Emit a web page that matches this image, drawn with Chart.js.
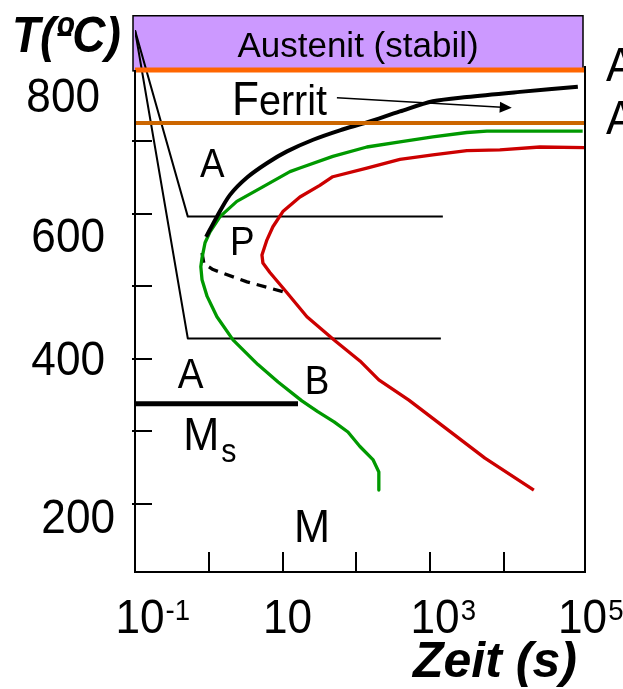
<!DOCTYPE html>
<html>
<head>
<meta charset="utf-8">
<title>ZTU-Schaubild</title>
<script src="https://cdn.jsdelivr.net/npm/chart.js@4.4.1/dist/chart.umd.min.js"></script>
<style>
  html, body { margin: 0; padding: 0; background: #ffffff; }
  canvas { display: block; }
</style>
</head>
<body>
<canvas id="ztu" width="623" height="689"></canvas>
<script>
// Isothermes ZTU-Schaubild eines untereutektoiden Stahls
// Zeit in s (logarithmisch), Temperatur in °C

const X_MIN = 0.1;
const X_MAX = 125900;
const Y_MIN = 106;
const Y_MAX = 874;

const A3_TEMP = 798;
const A1_TEMP = 725;
const MS_TEMP = 338;
const AUSTENIT_BAND = [798, 874];

// Ferritbeginn (schwarz)
const ferritTime = [0.92, 1.29, 1.94, 3.3, 6.2, 11.5, 26, 60, 139, 390, 1090, 3150, 16500, 100700];
const ferritTemp = [568, 596, 626, 650, 670, 686, 702, 715, 726, 741, 755, 761, 768, 775];

// Umwandlungsbeginn (grün)
const beginnTime = [117000, 5890, 3150, 1090, 390, 139, 48, 17.2, 12.6, 5.4, 2.4, 1.42, 1.04, 0.89, 0.81,
                    0.78, 0.81, 0.95, 1.29, 2.13, 4.64, 8.7, 18.3, 30, 50, 77, 112, 168, 202, 202];
const beginnTemp = [714, 714, 712, 706, 699, 692, 679, 663, 658, 637, 617, 596, 575, 560, 539,
                    527, 509, 486, 458, 426, 392, 368, 342, 327, 313, 299, 279, 261, 244, 219];

// Umwandlungsende (rot)
const endeTime = [125000, 30800, 8830, 3150, 1090, 390, 139, 48, 32, 17.2, 10.1, 7.4, 6.15, 5.26, 5.42,
                  6.74, 11.5, 21.4, 50, 112, 202, 516, 1590, 5540, 25500];
const endeTemp = [691, 692, 688, 687, 681, 675, 663, 651, 639, 623, 603, 582, 564, 543, 532,
                  519, 491, 458, 426, 397, 371, 343, 305, 263, 219];

// Grenze Perlit / Bainit (gestrichelt)
const grenzeTime = [0.81, 0.86, 1.14, 3.3, 11.5];
const grenzeTemp = [546, 531, 523, 506, 491];

// Abschreck- und Haltepfade
const pfad1Time = [0.1, 0.52, 1490];
const pfad1Temp = [853, 596, 596];
const pfad2Time = [0.1, 0.52, 1400];
const pfad2Temp = [853, 428, 428];

// Martensitstart
const msTime = [0.1, 16.2];

// Achsenbeschriftung
const yTickValues = [200, 300, 400, 500, 600, 700];
const yLabelValues = [200, 400, 600, 800];
const xTickValues = [1, 10, 100, 1000, 10000];
const xLabelValues = [0.1, 10, 1000, 100000];
const xLabelExp = ['-1', '', '3', '5'];

const FONT = '"Liberation Sans", Arial, Helvetica, sans-serif';

function zip(ts, Ts) {
  return ts.map((t, i) => ({ x: t, y: Ts[i] }));
}

function drawText(ctx, s, x, y, size, opts = {}) {
  ctx.save();
  ctx.font = `${opts.style || ''} ${size}px ${FONT}`;
  ctx.fillStyle = '#000';
  ctx.textBaseline = 'alphabetic';
  ctx.textAlign = 'left';
  const sx = opts.sx || 1;
  const w = ctx.measureText(s).width * sx;
  let x0 = x;
  if (opts.align === 'center') x0 = x - w / 2;
  else if (opts.align === 'right') x0 = x - w;
  ctx.translate(x0, y);
  ctx.scale(sx, 1);
  ctx.fillText(s, 0, 0);
  ctx.restore();
  return x0 + w;
}

// Beschriftungen der Gefügebereiche (Zeit, Temperatur)
const regionLabels = [
  { text: 'A', t: 0.76, T: 650, size: 40 },
  { text: 'P', t: 1.94, T: 543, size: 40 },
  { text: 'A', t: 0.38, T: 360, size: 42 },
  { text: 'B', t: 20,   T: 352, size: 40 },
  { text: 'M', t: 14.3, T: 148, size: 47 }
];

// per-label nudges for the temperature labels: [right edge from axis, baseline below tick]
const yLabelNudge = { 800: [-35, 43], 600: [-30, 38], 400: [-30, 16], 200: [-20, 29] };

const decorations = {
  id: 'decorations',
  beforeDatasetsDraw(chart) {
    const { ctx, chartArea: a, scales: { x, y } } = chart;
    const top = y.getPixelForValue(AUSTENIT_BAND[1]);
    const bot = y.getPixelForValue(AUSTENIT_BAND[0]);
    ctx.save();
    ctx.fillStyle = '#cc99ff';
    ctx.fillRect(a.left - 2, top, a.right - a.left, bot - top);
    ctx.strokeStyle = '#000';
    ctx.lineWidth = 1.5;
    ctx.strokeRect(a.left - 2, top + 0.75, a.right - a.left, bot - top);
    ctx.restore();
  },
  afterDatasetsDraw(chart) {
    const { ctx, chartArea: a, scales: { x, y } } = chart;
    ctx.save();
    ctx.strokeStyle = '#000';
    ctx.lineWidth = 2;
    ctx.lineCap = 'butt';
    const yTop = y.getPixelForValue(A3_TEMP);

    // Rahmen
    ctx.beginPath();
    ctx.moveTo(a.left, yTop);
    ctx.lineTo(a.left, a.bottom);
    ctx.lineTo(a.right, a.bottom);
    ctx.lineTo(a.right, yTop - 4);
    ctx.stroke();

    // Teilstriche nach innen
    ctx.beginPath();
    yTickValues.forEach(v => {
      const py = Math.round(y.getPixelForValue(v));
      ctx.moveTo(a.left - 3, py);
      ctx.lineTo(a.left + 17, py);
    });
    xTickValues.forEach(v => {
      const px = Math.round(x.getPixelForValue(v));
      ctx.moveTo(px, a.bottom);
      ctx.lineTo(px, a.bottom - 20);
    });
    ctx.stroke();
    ctx.restore();

    // Temperaturbeschriftung
    yLabelValues.forEach(v => {
      const n = yLabelNudge[v] || [-25, 17];
      drawText(ctx, String(v), a.left + n[0], y.getPixelForValue(v) + n[1], 48, { align: 'right', sx: 0.92 });
    });

    // Zeitbeschriftung 10^n
    xLabelValues.forEach((v, i) => {
      const px = x.getPixelForValue(v) + 5;
      const end = drawText(ctx, '10', px, a.bottom + 61, 48, { align: 'center', sx: 0.92 });
      if (xLabelExp[i]) drawText(ctx, xLabelExp[i], end + 1, a.bottom + 48, 30, { sx: 0.92 });
    });

    // Achsentitel
    const tEnd = drawText(ctx, 'T(', 12, 52, 50, { style: 'italic bold', sx: 0.92 });
    const oEnd = drawText(ctx, '\u00ba', tEnd, 52, 50, { style: 'italic bold', sx: 0.92 });
    ctx.save();
    ctx.fillStyle = '#000';
    ctx.fillRect(tEnd + 2, 33, oEnd - tEnd - 3, 3);
    ctx.restore();
    drawText(ctx, 'C)', oEnd, 52, 50, { style: 'italic bold', sx: 0.92 });
    drawText(ctx, 'Zeit (s)', 413, a.bottom + 105, 50, { style: 'italic bold' });

    // Austenitbereich
    const bandMid = (a.left + a.right) / 2 - 2;
    drawText(ctx, 'Austenit (stabil)', bandMid, y.getPixelForValue(816), 35, { align: 'center' });

    // A3 / A1 am rechten Rand
    drawText(ctx, 'A', a.right + 21, y.getPixelForValue(A3_TEMP) + 11, 48, { sx: 0.92 });
    drawText(ctx, 'A', a.right + 21, y.getPixelForValue(A1_TEMP) + 11, 48, { sx: 0.92 });

    // Ferrit mit Pfeil
    let fx = drawText(ctx, 'F', x.getPixelForValue(2.06), y.getPixelForValue(736.6), 48, { sx: 0.92 });
    drawText(ctx, 'errit', fx, y.getPixelForValue(736.6), 43, { sx: 0.92 });
    const ax0 = x.getPixelForValue(54.6), ay0 = y.getPixelForValue(760);
    const ax1 = x.getPixelForValue(12800), ay1 = y.getPixelForValue(746);
    const ang = Math.atan2(ay1 - ay0, ax1 - ax0);
    ctx.save();
    ctx.strokeStyle = '#000';
    ctx.fillStyle = '#000';
    ctx.lineWidth = 1.5;
    ctx.beginPath();
    ctx.moveTo(ax0, ay0);
    ctx.lineTo(ax1 - 10 * Math.cos(ang), ay1 - 10 * Math.sin(ang));
    ctx.stroke();
    ctx.translate(ax1, ay1);
    ctx.rotate(ang);
    ctx.beginPath();
    ctx.moveTo(0, 0);
    ctx.lineTo(-12, -5.5);
    ctx.lineTo(-12, 5.5);
    ctx.closePath();
    ctx.fill();
    ctx.restore();

    // Gefügebereiche
    regionLabels.forEach(l => {
      drawText(ctx, l.text, x.getPixelForValue(l.t), y.getPixelForValue(l.T), l.size, { sx: 0.92 });
    });
    const msEnd = drawText(ctx, 'M', x.getPixelForValue(0.45), y.getPixelForValue(274.5), 47, { sx: 0.92 });
    drawText(ctx, 's', msEnd + 2, y.getPixelForValue(274.5) + 12, 33, { sx: 0.92 });
  }
};

function lineSet(label, data, color, width, extra = {}) {
  return Object.assign({
    label, data,
    borderColor: color,
    borderWidth: width,
    pointRadius: 0,
    fill: false,
    tension: 0,
    borderJoinStyle: 'round',
    borderCapStyle: 'butt'
  }, extra);
}

new Chart(document.getElementById('ztu'), {
  type: 'line',
  data: {
    datasets: [
      lineSet('A3', zip([X_MIN, X_MAX], [A3_TEMP, A3_TEMP]), '#ff6600', 5, { order: 1 }),
      lineSet('A1', zip([X_MIN, X_MAX], [A1_TEMP, A1_TEMP]), '#cc6600', 4, { order: 2 }),
      lineSet('Ferritbeginn', zip(ferritTime, ferritTemp), '#000000', 4, { order: 3, tension: 0.3 }),
      lineSet('Umwandlungsbeginn', zip(beginnTime, beginnTemp), '#009900', 3.3, { order: 4 }),
      lineSet('Umwandlungsende', zip(endeTime, endeTemp), '#cc0000', 3.3, { order: 5 }),
      lineSet('Perlit/Bainit', zip(grenzeTime, grenzeTemp), '#000000', 3.3, { order: 6, borderDash: [10, 7] }),
      lineSet('Ms', zip(msTime, [MS_TEMP, MS_TEMP]), '#000000', 5, { order: 7 }),
      lineSet('Pfad 1', zip(pfad1Time, pfad1Temp), '#000000', 2, { order: 8 }),
      lineSet('Pfad 2', zip(pfad2Time, pfad2Temp), '#000000', 2, { order: 9 })
    ]
  },
  options: {
    responsive: false,
    animation: false,
    devicePixelRatio: 1,
    layout: { padding: { left: 135, right: 38, top: 15, bottom: 117 } },
    plugins: { legend: { display: false }, tooltip: { enabled: false } },
    scales: {
      x: { type: 'logarithmic', min: X_MIN, max: X_MAX, display: false },
      y: { type: 'linear', min: Y_MIN, max: Y_MAX, display: false }
    }
  },
  plugins: [decorations]
});
</script>
</body>
</html>
